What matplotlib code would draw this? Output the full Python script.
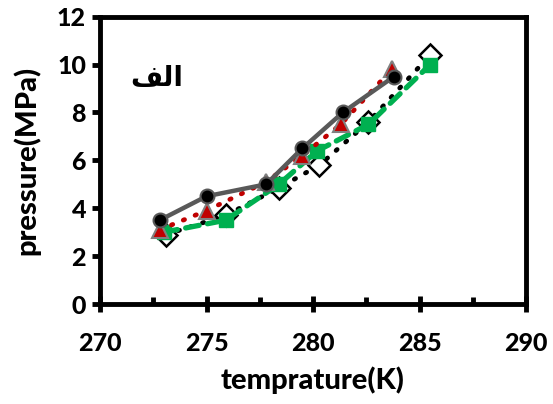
import matplotlib
matplotlib.use("Agg")
import matplotlib.pyplot as plt
from matplotlib.ticker import MultipleLocator

# Series 1: black circles, solid gray line
t1 = [272.8, 275.0, 277.8, 279.5, 281.4, 283.8]
p1 = [3.5, 4.5, 5.0, 6.5, 8.0, 9.5]
# Series 2: red triangles, red dotted line
t2 = [272.8, 275.0, 277.8, 279.5, 281.3, 283.7]
p2 = [3.1, 3.9, 5.1, 6.2, 7.5, 9.8]
# Series 3: open diamonds, black dotted line
t3 = [273.1, 275.9, 278.4, 280.3, 282.6, 285.5]
p3 = [2.9, 3.7, 4.85, 5.8, 7.6, 10.4]
# Series 4: green squares, green dashed line
t4 = [273.0, 275.9, 278.4, 280.2, 282.6, 285.5]
p4 = [3.0, 3.5, 5.0, 6.4, 7.5, 10.0]

x_ticks = [270, 275, 280, 285, 290]
y_ticks = [0, 2, 4, 6, 8, 10, 12]
panel_label = "\uFED2\uFEDF\uFE8D"  # "الف" in presentation forms, visual order

plt.rcParams['font.family'] = ['Lato', 'DejaVu Sans']

fig = plt.figure(figsize=(5.53, 4.04), dpi=100)
ax = fig.add_axes([100 / 553, 100 / 404, 426 / 553, 287.3 / 404])

ax.plot(t3, p3, linestyle=(0, (0.3, 2.4)), dash_capstyle='round', color='black', lw=3.4,
        marker='D', markersize=11, markerfacecolor='white', markeredgecolor='black',
        markeredgewidth=1.8, zorder=3)
ax.plot(t4, p4, linestyle=(0, (2.6, 1.6)), dash_capstyle='round', color='#00B050', lw=3.8,
        marker='s', markersize=10, markerfacecolor='#00B050', markeredgecolor='#00B050',
        zorder=4)
ax.plot(t2, p2, linestyle=(0, (0.3, 2.4)), dash_capstyle='round', color='#C00000', lw=3.4,
        marker='^', markersize=12, markerfacecolor='#C00000', markeredgecolor='#808080',
        markeredgewidth=1.5, zorder=5)
ax.plot(t1, p1, linestyle='-', color='#595959', lw=3.2,
        marker='o', markersize=10, markerfacecolor='black', markeredgecolor='#595959',
        markeredgewidth=1.5, zorder=6)

ax.set_xlim(270, 290)
ax.set_ylim(0, 12)
ax.set_xticks(x_ticks)
ax.set_yticks(y_ticks)
ax.xaxis.set_minor_locator(MultipleLocator(2.5))

for s in ax.spines.values():
    s.set_linewidth(3.5)
    s.set_color('black')

ax.tick_params(axis='x', which='major', direction='inout', length=11, width=3.5,
               labelsize=18, pad=15)
ax.tick_params(axis='x', which='minor', direction='in', length=5, width=3.5)
ax.tick_params(axis='y', which='major', direction='out', length=6, width=3.5,
               labelsize=18, pad=4)
for lab in ax.get_xticklabels() + ax.get_yticklabels():
    lab.set_fontweight('black')

ax.set_xlabel('temprature(K)', fontsize=21, fontweight='black', labelpad=8)
ax.set_ylabel('pressure(MPa)', fontsize=21, fontweight='black', labelpad=12)

ax.text(0.134, 0.787, panel_label, transform=ax.transAxes, ha='center', va='center',
        fontsize=20, fontweight='bold', family=['DejaVu Sans'])

fig.savefig('out.png', dpi=100)
